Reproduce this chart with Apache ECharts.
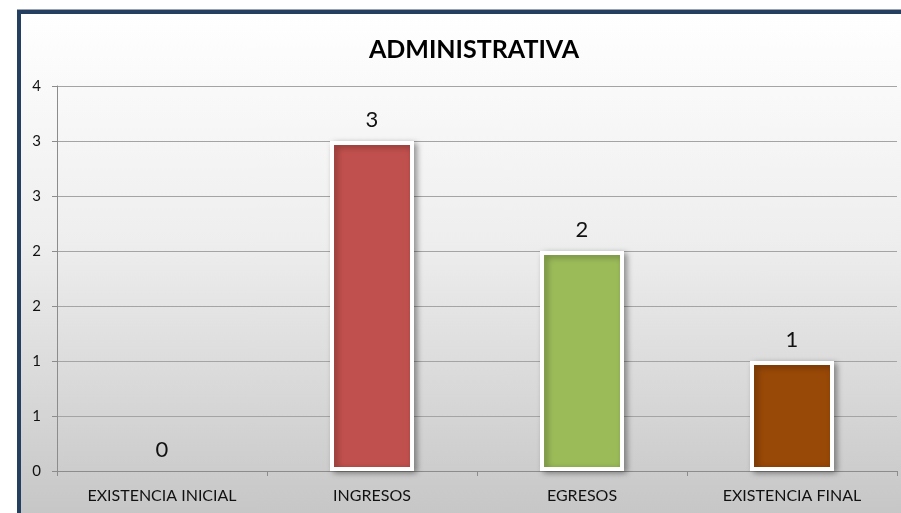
<!DOCTYPE html>
<html>
<head>
<meta charset="utf-8">
<script src="https://cdn.jsdelivr.net/npm/echarts@6/dist/echarts.min.js"></script>
<style>
  html, body { margin: 0; padding: 0; background: #fff; }
  #frame {
    position: absolute; left: 17px; top: 10px; width: 884px; height: 503px;
    border-left: 4px solid #243f60; border-top: 4px solid #243f60;
    box-shadow: 0 -1px 0 #9aa3ad;
    background: linear-gradient(to bottom, #ffffff 0%, #eeeeee 45%, #c6c6c6 100%);
  }
  #chart { position: absolute; left: 0; top: 0; width: 901px; height: 513px; }
</style>
</head>
<body>
<div id="frame"></div>
<div id="chart"></div>
<script>
// datos del grafico
var categorias = ['EXISTENCIA INICIAL', 'INGRESOS', 'EGRESOS', 'EXISTENCIA FINAL'];
var valores = [0, 3, 2, 1];
var colores = ['#4f81bd', '#c0504d', '#9bbb59', '#984807'];

var myChart = echarts.init(document.getElementById('chart'));

var option = {
    backgroundColor: 'transparent',
    animation: false,
    title: {
        text: 'ADMINISTRATIVA',
        left: 469,
        textAlign: 'center',
        top: 32,
        textStyle: { fontFamily: 'Lato', fontWeight: 'bold', fontSize: 25, color: '#000' }
    },
    grid: { left: 57, right: 4, top: 86, bottom: 42 },
    xAxis: {
        type: 'category',
        data: categorias,
        axisLine: { lineStyle: { color: '#8c8c8c', width: 1 } },
        axisTick: { show: true, length: 5, lineStyle: { color: '#8c8c8c' } },
        axisLabel: { fontFamily: 'Lato', fontSize: 16, color: '#111', margin: 17 }
    },
    yAxis: {
        type: 'value',
        min: 0,
        max: 3.5,
        interval: 0.5,
        axisLine: { show: true, lineStyle: { color: '#8c8c8c' } },
        axisTick: { show: true, length: 5, lineStyle: { color: '#8c8c8c' } },
        axisLabel: {
            fontFamily: 'Lato', fontSize: 15, color: '#111', margin: 16,
            formatter: function (v) { return Math.round(v); }
        },
        splitLine: { lineStyle: { color: '#a4a4a4', width: 1 } }
    },
    series: [{
        type: 'bar',
        barWidth: 84,
        data: valores.map(function (v, i) {
            var estilo = { color: colores[i] };
            if (v === 0) { estilo.borderWidth = 0; estilo.shadowColor = 'rgba(0,0,0,0.15)'; }
            return { value: v, itemStyle: estilo };
        }),
        itemStyle: {
            borderColor: '#ffffff',
            borderWidth: 4,
            shadowColor: 'rgba(0,0,0,0.35)',
            shadowBlur: 6,
            shadowOffsetX: 3,
            shadowOffsetY: 2
        },
        label: {
            show: true,
            position: 'top',
            distance: 10,
            fontFamily: 'Lato',
            fontSize: 22,
            color: '#111'
        }
    }]
};

myChart.setOption(option);
</script>
</body>
</html>
